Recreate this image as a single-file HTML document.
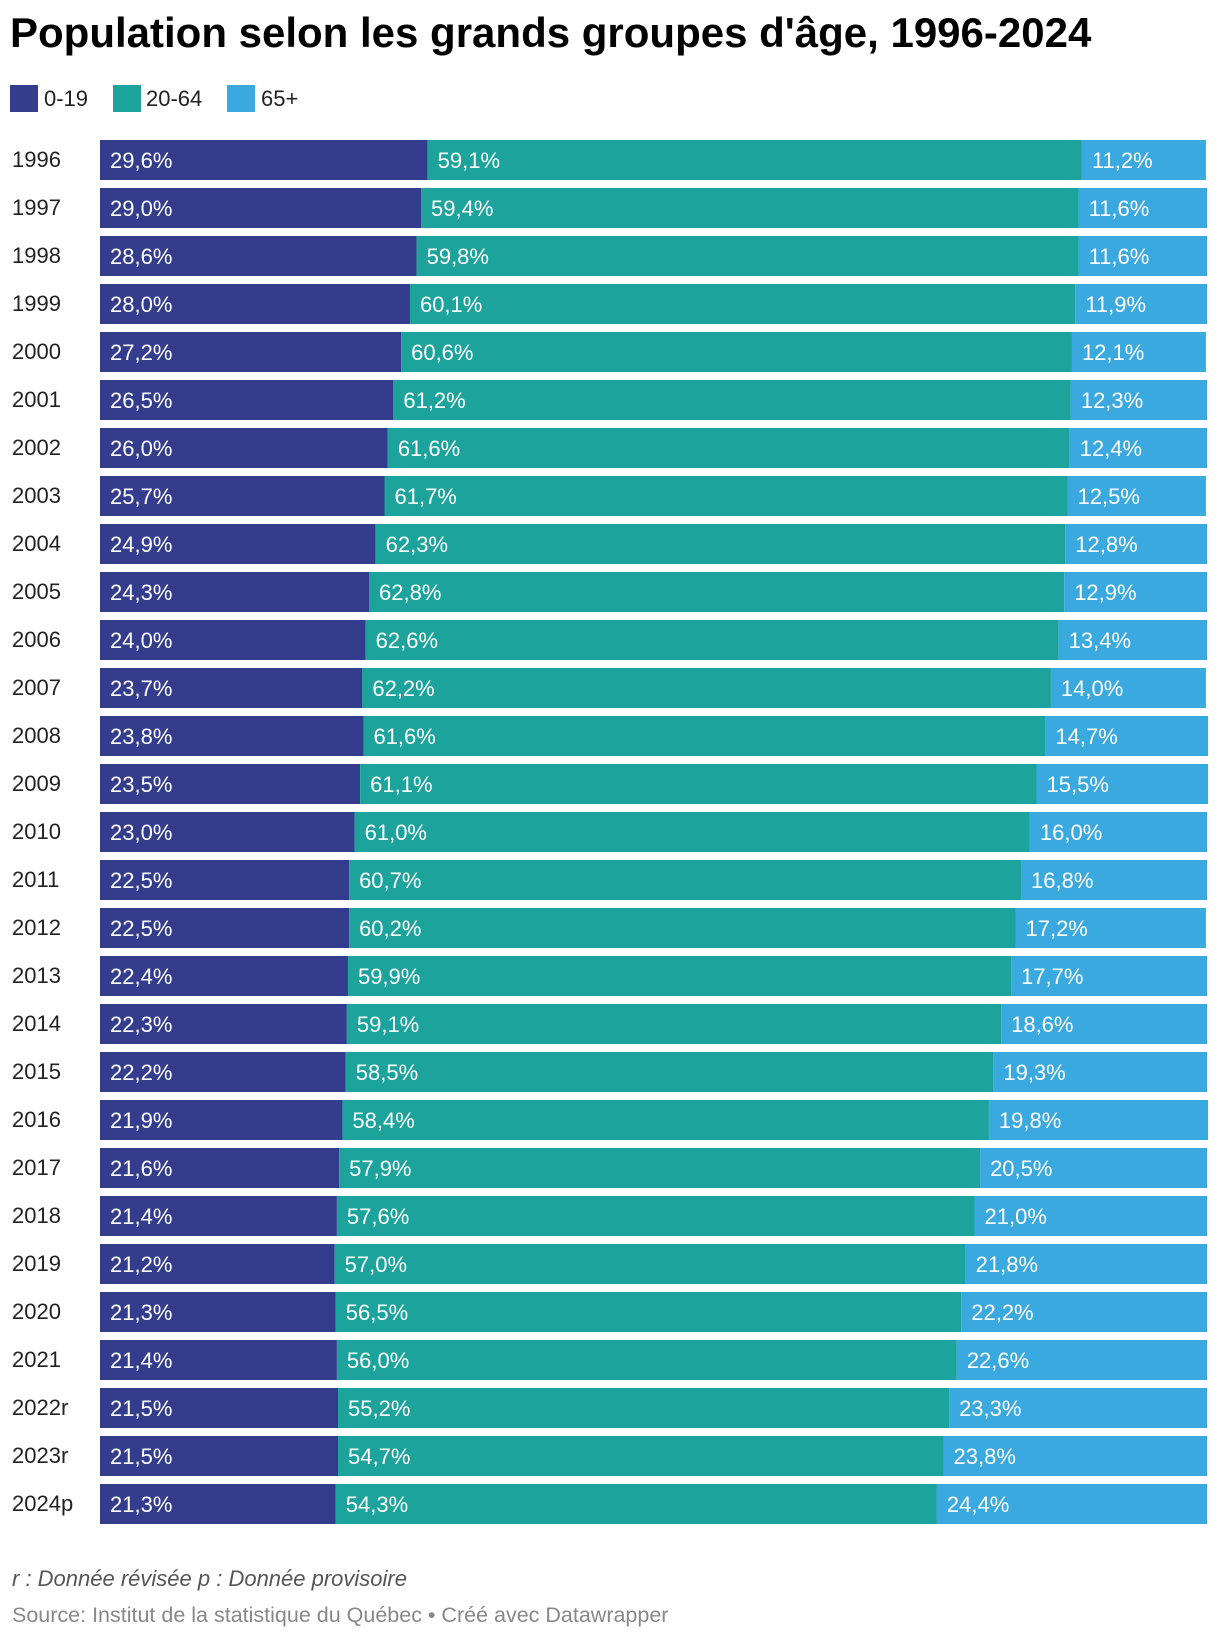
<!DOCTYPE html>
<html><head><meta charset="utf-8">
<style>
body{margin:0;background:#fff;width:1220px;height:1638px;overflow:hidden;font-family:"Liberation Sans",sans-serif;}
#title{position:absolute;left:10px;top:9px;font-size:42px;font-weight:bold;color:#000;white-space:nowrap}
.sw{position:absolute;top:85px;width:28px;height:27px}
.lt{position:absolute;top:86px;font-size:22px;color:#222}
.note{position:absolute;left:12px;font-size:22px;color:#555;white-space:nowrap}
</style></head><body>
<div id="title">Population selon les grands groupes d'âge, 1996-2024</div>
<div class="sw" style="left:10px;background:#343d8d"></div>
<div class="lt" style="left:44px">0-19</div>
<div class="sw" style="left:113px;background:#1ba39c"></div>
<div class="lt" style="left:146px">20-64</div>
<div class="sw" style="left:227px;background:#3aa9e0"></div>
<div class="lt" style="left:261px">65+</div>
<svg id="chart" width="1220" height="1638" style="position:absolute;left:0;top:0"></svg>
<div class="note" style="top:1566px;font-style:italic">r : Donnée révisée p : Donnée provisoire</div>
<div class="note" style="top:1603px;color:#888;font-size:21.5px">Source: Institut de la statistique du Québec • Créé avec Datawrapper</div>
<script>
const years=["1996","1997","1998","1999","2000","2001","2002","2003","2004","2005","2006","2007","2008","2009","2010","2011","2012","2013","2014","2015","2016","2017","2018","2019","2020","2021","2022r","2023r","2024p"];
const young=[29.6,29.0,28.6,28.0,27.2,26.5,26.0,25.7,24.9,24.3,24.0,23.7,23.8,23.5,23.0,22.5,22.5,22.4,22.3,22.2,21.9,21.6,21.4,21.2,21.3,21.4,21.5,21.5,21.3];
const adult=[59.1,59.4,59.8,60.1,60.6,61.2,61.6,61.7,62.3,62.8,62.6,62.2,61.6,61.1,61.0,60.7,60.2,59.9,59.1,58.5,58.4,57.9,57.6,57.0,56.5,56.0,55.2,54.7,54.3];
const senior=[11.2,11.6,11.6,11.9,12.1,12.3,12.4,12.5,12.8,12.9,13.4,14.0,14.7,15.5,16.0,16.8,17.2,17.7,18.6,19.3,19.8,20.5,21.0,21.8,22.2,22.6,23.3,23.8,24.4];
const NS="http://www.w3.org/2000/svg";
const svg=document.getElementById('chart');
const x0=100,W=1107,y0=140,pitch=48,bh=40;
const xs=v=>v/100*W;
const ys=i=>y0+i*pitch;
const series=[[young,"#343d8d","young"],[adult,"#1ba39c","adult"],[senior,"#3aa9e0","senior"]];
function fmt(v){return v.toFixed(1).replace('.',',')+'%';}
years.forEach((y,i)=>{
  const t=document.createElementNS(NS,'text');
  
  
  t.setAttribute('x',12);t.setAttribute('y',ys(i)+bh/2+7);
  t.setAttribute('font-size','22');t.setAttribute('fill','#222');
  t.textContent=y;svg.appendChild(t);
  let acc=0;
  series.forEach(([arr,col,nm])=>{
    const v=arr[i];
    const r=document.createElementNS(NS,'rect');
    
    
    r.setAttribute('x',x0+xs(acc));r.setAttribute('y',ys(i));
    r.setAttribute('width',xs(v));r.setAttribute('height',bh);
    r.setAttribute('fill',col);svg.appendChild(r);
    const l=document.createElementNS(NS,'text');
    
    
    l.setAttribute('x',x0+xs(acc)+10);l.setAttribute('y',ys(i)+bh/2+8);
    l.setAttribute('font-size','22');l.setAttribute('fill','#fff');
    l.textContent=fmt(v);svg.appendChild(l);
    acc+=v;
  });
});
</script>
</body></html>
